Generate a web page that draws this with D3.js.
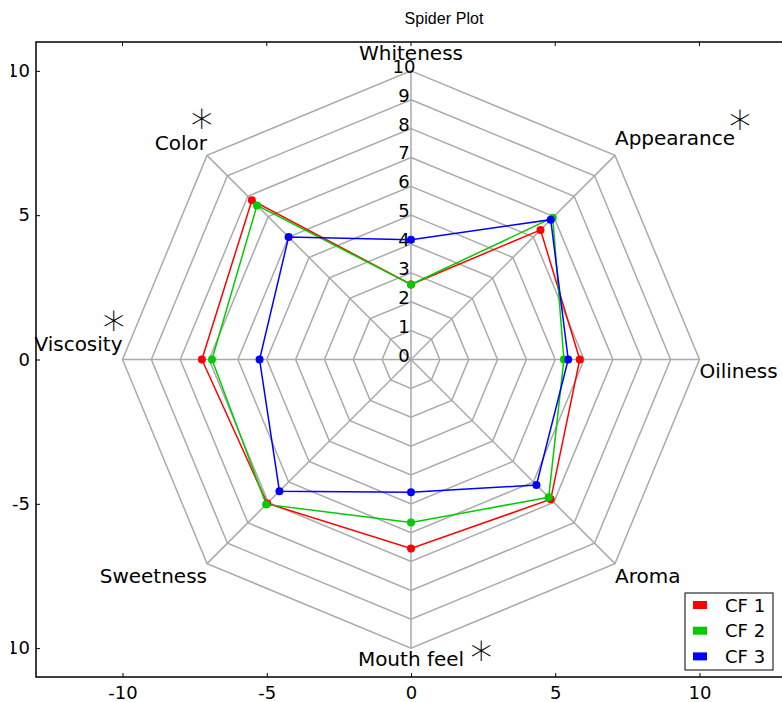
<!DOCTYPE html>
<html>
<head>
<meta charset="utf-8">
<script src="https://cdn.jsdelivr.net/npm/d3@7"></script>
<style>
  html, body { margin: 0; padding: 0; background: #fff; }
  svg { display: block; }
</style>
</head>
<body>
<script>
// data
const categories = ["Whiteness", "Appearance", "Oiliness", "Aroma", "Mouth feel", "Sweetness", "Viscosity", "Color"];
const angles = [90, 45, 0, -45, -90, -135, 180, 135];
const cf1 = [2.6, 6.35, 5.85, 6.85, 6.55, 7.05, 7.25, 7.8];
const cf2 = [2.6, 6.95, 5.3, 6.75, 5.65, 7.1, 6.9, 7.55];
const cf3 = [4.15, 6.85, 5.45, 6.15, 4.6, 6.45, 5.25, 6.0];
const seriesNames = ["CF 1", "CF 2", "CF 3"];
const seriesColors = ["#ff0000", "#00cc00", "#0000ff"];
const ringLevels = [0, 1, 2, 3, 4, 5, 6, 7, 8, 9, 10];
const xTicks = [-10, -5, 0, 5, 10];
const yTicks = [-10, -5, 0, 5, 10];
const starred = ["Color", "Appearance", "Viscosity", "Mouth feel"];

const width = 782, height = 702;
const font = "'DejaVu Sans', sans-serif";

const x = d3.scaleLinear().domain([-13, 13]).range([36, 786]);
const y = d3.scaleLinear().domain([-11, 11]).range([677, 42]);

const svg = d3.select("body").append("svg")
  .attr("xmlns", "http://www.w3.org/2000/svg")
  .attr("width", width)
  .attr("height", height);

// the original picture was cropped on the left, cutting the y labels
svg.append("defs").append("clipPath").attr("id", "leftcrop")
  .append("rect").attr("x", 11).attr("y", 0).attr("width", width).attr("height", height);

// polar helper
const pt = (r, deg) => {
  const a = deg * Math.PI / 180;
  return [x(r * Math.cos(a)), y(r * Math.sin(a))];
};

// grid rings
const gridG = svg.append("g");
const line = d3.line();
ringLevels.filter(d => d > 0).forEach(r => {
  gridG.append("path")
    .attr("d", line(angles.map(a => pt(r, a))) + "Z")
    .attr("fill", "none")
    .attr("stroke", "#aaaaaa")
    .attr("stroke-width", 1.5);
});
angles.forEach(a => {
  gridG.append("line")
    .attr("x1", x(0)).attr("y1", y(0))
    .attr("x2", pt(10, a)[0]).attr("y2", pt(10, a)[1])
    .attr("stroke", "#aaaaaa")
    .attr("stroke-width", 1.5);
});

// ring labels on the top spoke
svg.append("g").selectAll("text")
  .data(ringLevels)
  .enter().append("text")
  .attr("x", x(0) - 7)
  .attr("y", d => y(d) + 2)
  .attr("text-anchor", "middle")
  .attr("font-family", font)
  .attr("font-size", "18px")
  .attr("fill", "#000")
  .text(d => d);

// series
[cf1, cf2, cf3].forEach((vals, i) => {
  const pts = vals.map((v, j) => pt(v, angles[j]));
  svg.append("path")
    .attr("d", line(pts) + "Z")
    .attr("fill", "none")
    .attr("stroke", seriesColors[i])
    .attr("stroke-width", 1.5);
  svg.append("g").selectAll("circle")
    .data(pts)
    .enter().append("circle")
    .attr("cx", d => d[0]).attr("cy", d => d[1])
    .attr("r", 4)
    .attr("fill", seriesColors[i]);
});

// category labels
const labelPos = {
  "Whiteness": { dy: -11, anchor: "middle" },
  "Appearance": { dy: -10, anchor: "start" },
  "Oiliness": { dy: 18, anchor: "start" },
  "Aroma": { dy: 19, anchor: "start" },
  "Mouth feel": { dy: 18, anchor: "middle" },
  "Sweetness": { dy: 19, anchor: "end" },
  "Viscosity": { dy: -9, anchor: "end" },
  "Color": { dy: -5, anchor: "end" }
};
const labelBoxes = {};
categories.forEach((c, j) => {
  const p = pt(10, angles[j]);
  const o = labelPos[c];
  const t = svg.append("text")
    .attr("x", p[0])
    .attr("y", p[1] + o.dy)
    .attr("text-anchor", o.anchor)
    .attr("font-family", font)
    .attr("font-size", "20px")
    .attr("fill", "#000")
    .text(c);
  labelBoxes[c] = t.node().getBBox();
});

// asterisks next to significant attributes (cx, cy = glyph centre)
const starSize = 44;
starred.forEach(c => {
  const b = labelBoxes[c];
  let cx, cy;
  if (c === "Color") { cx = b.x + b.width - 6; cy = b.y - 15; }
  else if (c === "Appearance") { cx = b.x + b.width + 5; cy = b.y - 9; }
  else if (c === "Viscosity") { cx = b.x + b.width - 9; cy = b.y - 13; }
  else { cx = b.x + b.width + 17; cy = b.y + 1; }
  svg.append("text")
    .attr("x", cx)
    .attr("y", cy + 0.58 * starSize)
    .attr("text-anchor", "middle")
    .attr("font-family", font)
    .attr("font-weight", 200)
    .attr("font-size", starSize + "px")
    .attr("fill", "#000")
    .text("*");
});

// frame
svg.append("rect")
  .attr("x", x(-13)).attr("y", y(11))
  .attr("width", x(13) - x(-13))
  .attr("height", y(-11) - y(11))
  .attr("fill", "none")
  .attr("stroke", "#000")
  .attr("stroke-width", 1.5);

// axes ticks (inward) and labels
const xAxis = d3.axisBottom(x).tickValues(xTicks).tickSizeInner(-4).tickSizeOuter(0).tickPadding(9)
  .tickFormat(d => String(d));
const gx = svg.append("g").attr("transform", `translate(0,${y(-11)})`).call(xAxis);
gx.select(".domain").remove();
gx.selectAll("text").attr("font-family", font).attr("font-size", "18px").attr("fill", "#000");

const yAxis = d3.axisLeft(y).tickValues(yTicks).tickSizeInner(-4).tickSizeOuter(0).tickPadding(6)
  .tickFormat(d => String(d));
const gy = svg.append("g").attr("clip-path", "url(#leftcrop)")
  .append("g").attr("transform", `translate(${x(-13)},0)`)
  .call(yAxis);
gy.select(".domain").remove();
gy.selectAll("text").attr("font-family", font).attr("font-size", "18px").attr("fill", "#000");

// top ticks
svg.append("g").selectAll("line")
  .data(xTicks)
  .enter().append("line")
  .attr("x1", d => x(d)).attr("x2", d => x(d))
  .attr("y1", y(11)).attr("y2", y(11) + 4)
  .attr("stroke", "#000");

// title
svg.append("text")
  .attr("x", 444)
  .attr("y", 24)
  .attr("text-anchor", "middle")
  .attr("font-family", "'Liberation Sans', Arial, sans-serif")
  .attr("font-size", "16px")
  .attr("textLength", 79)
  .attr("fill", "#000")
  .text("Spider Plot");

// legend
const lg = svg.append("g").attr("transform", "translate(685,593)");
lg.append("rect")
  .attr("width", 88).attr("height", 77)
  .attr("fill", "#fff")
  .attr("stroke", "#000")
  .attr("stroke-width", 1);
seriesNames.forEach((n, i) => {
  const yy = 12 + i * 25.7;
  lg.append("rect")
    .attr("x", 8).attr("y", yy - 4)
    .attr("width", 14).attr("height", 8)
    .attr("fill", seriesColors[i]);
  lg.append("text")
    .attr("x", 40).attr("y", yy + 6.5)
    .attr("font-family", font)
    .attr("font-size", "18px")
    .attr("fill", "#000")
    .text(n);
});
</script>
</body>
</html>
